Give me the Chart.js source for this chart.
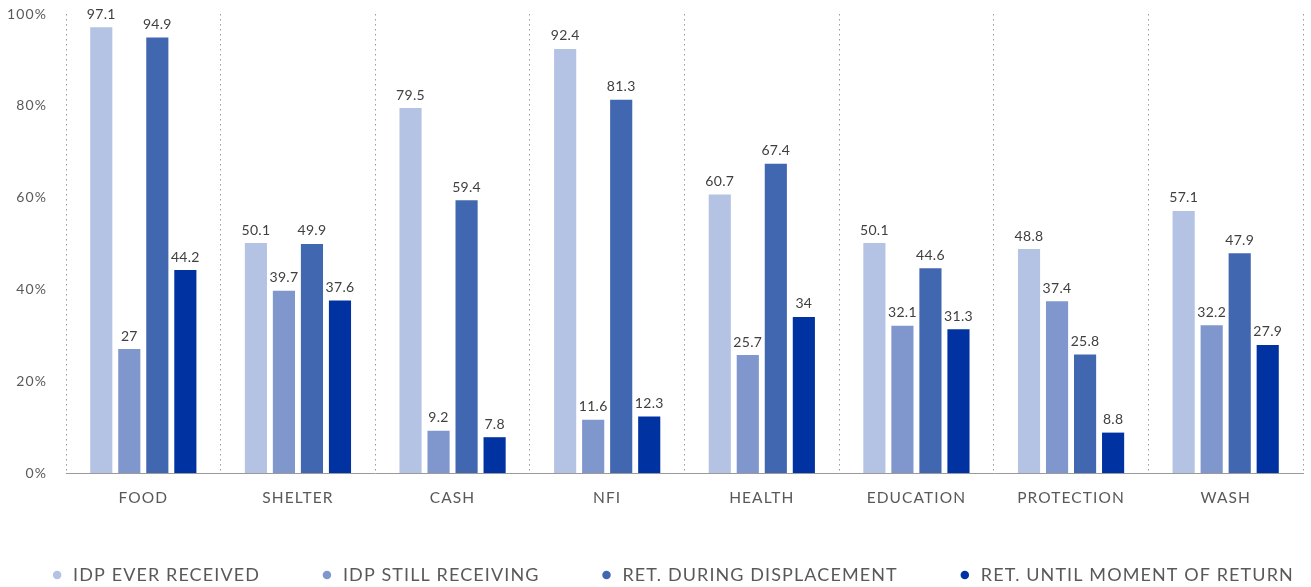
<!DOCTYPE html>
<html>
<head>
<meta charset="utf-8">
<script src="https://cdn.jsdelivr.net/npm/chart.js@4.4.1/dist/chart.umd.min.js"></script>
<style>
  html, body { margin: 0; padding: 0; background: #ffffff; }
  #wrap { width: 1311px; height: 587px; position: relative; }
</style>
</head>
<body>
<div id="wrap"><canvas id="c" width="1311" height="587"></canvas></div>
<script>
const categories = ['FOOD', 'SHELTER', 'CASH', 'NFI', 'HEALTH', 'EDUCATION', 'PROTECTION', 'WASH'];
const seriesNames = ['IDP EVER RECEIVED', 'IDP STILL RECEIVING', 'RET. DURING DISPLACEMENT', 'RET. UNTIL MOMENT OF RETURN'];
const idpEverReceived = [97.1, 50.1, 79.5, 92.4, 60.7, 50.1, 48.8, 57.1];
const idpStillReceiving = [27, 39.7, 9.2, 11.6, 25.7, 32.1, 37.4, 32.2];
const retDuringDisplacement = [94.9, 49.9, 59.4, 81.3, 67.4, 44.6, 25.8, 47.9];
const retUntilReturn = [44.2, 37.6, 7.8, 12.3, 34, 31.3, 8.8, 27.9];
const yTicks = [0, 20, 40, 60, 80, 100];

const colors = ['#B4C3E3', '#7F97CD', '#4267B1', '#0033A1'];
const FONT = 'Lato';
const dotted = [1.5, 3.5];
const gridColor = '#9a9a9a';

const spacingPlugin = {
  id: 'spacing',
  beforeUpdate(chart) { chart.ctx.letterSpacing = '1.1px'; },
  beforeDraw(chart) { chart.ctx.letterSpacing = '1.1px'; }
};

const legendPos = {
  id: 'legendPos',
  afterInit(chart) {
    const lg = chart.legend;
    if (!lg || lg._patched) return;
    const orig = lg.fit;
    lg.fit = function () {
      const mw = this.maxWidth;
      this.maxWidth = 3000;
      orig.call(this);
      this.maxWidth = mw;
      this.width = mw;
      this.height = 40;
    };
    lg._patched = true;
  },
  afterLayout(chart) {
    const lg = chart.legend;
    if (!lg) return;
    const pad = lg.options.labels.padding;
    const targetCenter = 575;
    const newTop = targetCenter - pad - 9;
    lg.top = newTop; lg.bottom = chart.height;
    const cx = 672;
    lg.left = cx - 1000; lg.right = cx + 1000;
  }
};

const valueLabels = {
  id: 'valueLabels',
  afterDatasetsDraw(chart) {
    const ctx = chart.ctx;
    ctx.save();
    ctx.letterSpacing = '0.3px';
    ctx.font = '14px ' + FONT;
    ctx.fillStyle = '#404040';
    ctx.textAlign = 'center';
    ctx.textBaseline = 'bottom';
    chart.data.datasets.forEach((ds, i) => {
      const meta = chart.getDatasetMeta(i);
      meta.data.forEach((bar, j) => {
        ctx.fillText(String(ds.data[j]), bar.x, bar.y - 6);
      });
    });
    ctx.restore();
  }
};

const seriesData = [idpEverReceived, idpStillReceiving, retDuringDisplacement, retUntilReturn];

new Chart(document.getElementById('c'), {
  type: 'bar',
  data: {
    labels: categories,
    datasets: seriesNames.map((name, i) => ({
      label: name,
      data: seriesData[i],
      backgroundColor: colors[i],
      borderWidth: 0,
      categoryPercentage: 0.725,
      barPercentage: 0.79
    }))
  },
  options: {
    responsive: false,
    animation: false,
    layout: { padding: { left: 0, right: 8, top: 14, bottom: 0 } },
    plugins: {
      tooltip: { enabled: false },
      legend: {
        position: 'bottom',
        labels: {
          usePointStyle: true,
          pointStyle: 'circle',
          boxWidth: 14,
          boxHeight: 6,
          padding: 60,
          color: '#595959',
          font: { family: FONT, size: 18 }
        }
      }
    },
    scales: {
      x: {
        grid: {
          offset: true,
          drawTicks: false,
          color: (c) => (c.index === categories.length ? 'rgba(0,0,0,0)' : gridColor),
          lineWidth: 1
        },
        border: { display: true, color: gridColor, dash: dotted, width: 1 },
        ticks: { color: '#595959', font: { family: FONT, size: 15.5 }, padding: 16 },
        afterFit(scale) { scale.height = 74; scale.paddingLeft = 0; scale.paddingRight = 0; }
      },
      y: {
        min: 0,
        max: 100,
        afterBuildTicks(scale) { scale.ticks = yTicks.map(v => ({ value: v })); },
        grid: { display: false, drawTicks: false },
        border: { display: false },
        ticks: {
          color: '#595959',
          font: { family: FONT, size: 14 },
          padding: 19,
          callback: (v) => v + '%'
        },
        afterFit(scale) { scale.width = 66; scale.paddingTop = 0; scale.paddingBottom = 0; }
      }
    }
  },
  plugins: [spacingPlugin, legendPos, valueLabels]
});
</script>
</body>
</html>
